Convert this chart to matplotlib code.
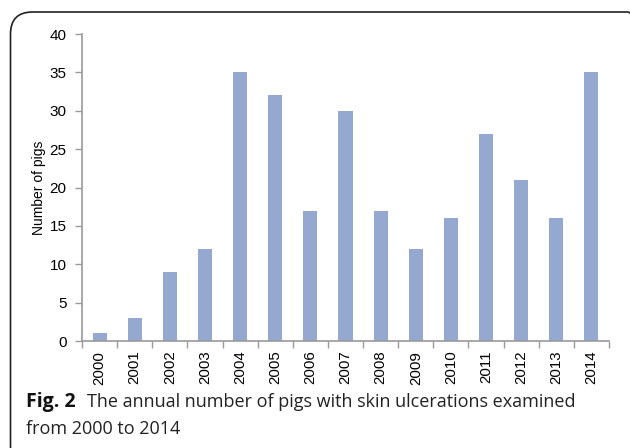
import matplotlib
matplotlib.use("Agg")
import matplotlib.pyplot as plt
from matplotlib.patches import FancyBboxPatch
import numpy as np

years = ["2000", "2001", "2002", "2003", "2004", "2005", "2006", "2007",
         "2008", "2009", "2010", "2011", "2012", "2013", "2014"]
pigs = [1, 3, 9, 12, 35, 32, 17, 30, 17, 12, 16, 27, 21, 16, 35]
yticks = [0, 5, 10, 15, 20, 25, 30, 35, 40]

W, H = 630, 448
fig = plt.figure(figsize=(W / 100, H / 100), dpi=100)

# rounded frame
box = FancyBboxPatch((10.5 / W, -20 / H), (W + 20 - 10.5) / W, (H - 12 + 20) / H,
                     boxstyle="round,pad=0,rounding_size=0.035",
                     transform=fig.transFigure, fill=False, edgecolor="#222222",
                     linewidth=1.2, mutation_aspect=W / H)
fig.patches.append(box)

FS = 11
ax = fig.add_axes([82 / W, 1 - 341 / H, (609 - 82) / W, (341 - 34) / H])
x = np.arange(len(years))
ax.bar(x, pigs, width=0.4, color="#94A8D0", zorder=2)
ax.set_xlim(-0.5, len(years) - 0.5)
ax.set_ylim(0, 40)
ax.set_yticks(yticks)
ax.set_yticklabels([str(v) for v in yticks], fontsize=FS, family="Liberation Sans")
ax.set_xticks(x)
ax.set_xticklabels(years, rotation=90, fontsize=10.8, family="Liberation Sans")
ax.tick_params(axis="x", which="major", length=0, pad=7)
ax.set_xticks(np.arange(-0.5, len(years)), minor=True)
ax.tick_params(axis="x", which="minor", length=5, color="#9a9a9a", width=1)
ax.tick_params(axis="y", length=5, color="#9a9a9a", width=1, pad=6)
for s in ["top", "right"]:
    ax.spines[s].set_visible(False)
for s in ["left", "bottom"]:
    ax.spines[s].set_color("#9a9a9a")
    ax.spines[s].set_linewidth(1.2)
ax.set_ylabel("Number of pigs", fontsize=10, family="Liberation Sans", labelpad=2.5)

fig.text(26 / W, 1 - 402 / H, "Fig. 2", fontsize=14, fontweight="bold",
         family="Open Sans", va="center", ha="left", color="#111111")
fig.text(87 / W, 1 - 402 / H, "The annual number of pigs with skin ulcerations examined",
         fontsize=13.0, family="Open Sans", va="center", ha="left", color="#222222")
fig.text(26 / W, 1 - 429 / H, "from 2000 to 2014",
         fontsize=13.0, family="Open Sans", va="center", ha="left", color="#222222")

fig.savefig("out.png", dpi=100)
